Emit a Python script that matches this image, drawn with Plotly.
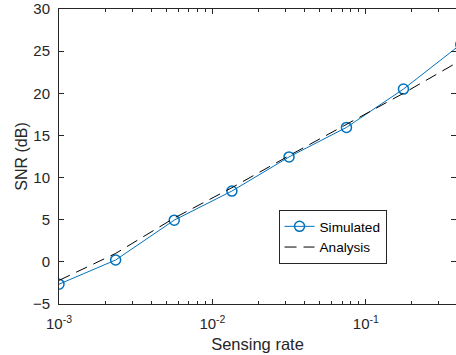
import plotly.graph_objects as go

sensing_rate = [0.001, 0.00234, 0.00564, 0.0134, 0.0316, 0.0748, 0.176, 0.416]
snr_simulated = [-2.65, 0.22, 4.95, 8.4, 12.45, 15.95, 20.5, 25.8]
analysis_rate = [0.001, 0.00234, 0.00564, 0.0134, 0.0316, 0.0748, 0.176, 0.416]
snr_analysis = [-2.2, 1.0, 5.2, 8.8, 12.6, 16.3, 20.0, 23.9]

x_tickvals = [0.001, 0.01, 0.1]
x_ticktext = ["10<sup>-3</sup>", "10<sup>-2</sup>", "10<sup>-1</sup>"]
x_minor_tickvals = [m * d for d in (0.001, 0.01, 0.1) for m in range(2, 10)]
y_tickvals = [-5, 0, 5, 10, 15, 20, 25, 30]

axcol = "#262626"
font = "Liberation Sans, Arial, sans-serif"

fig = go.Figure()
fig.add_trace(go.Scatter(
    x=sensing_rate, y=snr_simulated, name="Simulated", mode="lines+markers",
    line=dict(color="#0072BD", width=1),
    marker=dict(symbol="circle-open", size=10, color="#0072BD", line=dict(width=1.5, color="#0072BD")),
))
fig.add_trace(go.Scatter(
    x=analysis_rate, y=snr_analysis, name="Analysis", mode="lines",
    line=dict(color="black", width=1, dash="12px,7px"),
))

fig.update_layout(
    width=456, height=355,
    margin=dict(l=59, r=0, t=9, b=51),
    paper_bgcolor="white", plot_bgcolor="white",
    font=dict(family=font, size=15, color=axcol),
    showlegend=True,
    legend=dict(
        x=0.553, y=0.3186, xanchor="left", yanchor="top",
        bordercolor=axcol, borderwidth=1, bgcolor="white",
        font=dict(size=13.6, color="black"),
        tracegroupgap=0, itemwidth=30,
    ),
)
fig.update_xaxes(
    type="log", range=[-3, -0.412],
    tickvals=x_tickvals, ticktext=x_ticktext,
    ticks="inside", ticklen=5, tickcolor=axcol, tickwidth=1,
    minor=dict(tickvals=x_minor_tickvals, ticks="inside", ticklen=3, tickcolor=axcol, showgrid=False),
    showline=True, linecolor=axcol, linewidth=1, mirror="allticks",
    showgrid=False, zeroline=False, automargin=True,
    ticklabelstandoff=6,
    title=dict(text="Sensing rate", font=dict(size=16.5), standoff=7),
    tickfont=dict(size=15),
)
fig.update_yaxes(
    range=[-5, 30], tickvals=y_tickvals,
    ticks="inside", ticklen=5, tickcolor=axcol, tickwidth=1,
    showline=True, linecolor=axcol, linewidth=1, mirror="allticks",
    showgrid=False, zeroline=False, automargin=True,
    ticklabelstandoff=5,
    title=dict(text="SNR (dB)", font=dict(size=16), standoff=1),
    tickfont=dict(size=15),
)

fig.write_html("out.html")
